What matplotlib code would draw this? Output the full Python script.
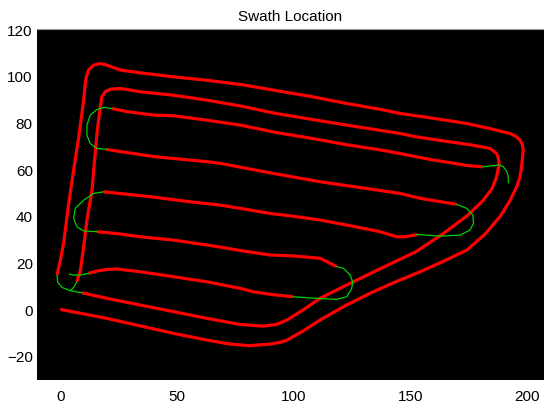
import matplotlib
matplotlib.use("Agg")
import matplotlib.pyplot as plt

plt.rcParams['font.family'] = ['Liberation Sans', 'DejaVu Sans']

title = "Swath Location"
x_ticks = [0, 50, 100, 150, 200]
y_ticks = [-20, 0, 20, 40, 60, 80, 100, 120]

# ---- outer loop (red) ----
outer_x = [0, 20, 48.5, 63, 72, 81, 89.9, 94, 97, 104, 111.3, 122, 132.8, 143, 154.2, 164, 174.2,
           182, 188.4, 192.5, 195.6, 197, 197.7, 198.4, 198, 197, 195, 192.7, 185, 174.2, 160, 145.6,
           137.5, 122, 107.8, 93, 78, 63, 48.4, 34.3, 25.7, 20, 17.1, 14.3, 12.1, 11, 10.7, 10, 8,
           5.7, 3.6, 1.4, 0, -1.4]
outer_y = [0.3, -3.6, -10, -12.9, -14.5, -15.3, -14.6, -13.9, -13, -9, -4.3, 1.8, 7.2, 11.8, 16.4, 20.8, 25.7,
           32.5, 40, 46.5, 52.9, 57, 61.4, 68.6, 71, 72.9, 74.6, 75.7, 77.6, 80, 82.2, 84.3,
           86, 88.7, 91.5, 94, 96.6, 98.5, 100, 101.7, 102.9, 105, 105.7, 105, 102.9, 99.3, 97.2, 90, 75,
           60, 45.7, 28.6, 21.4, 15]

# ---- turn between loops (green) ----
turn_a_x = [-1.4, -1.2, 0.7, 4.3, 9.3]
turn_a_y = [15, 12.1, 9.7, 8.3, 7.4]

# ---- inner loop (red) ----
inner_x = [9.3, 20, 34, 48.5, 63, 77.1, 87, 92.5, 97.1, 104, 111.3, 122.7, 137.5, 152.4, 164.3, 174.7,
           181.3, 185, 187, 188.1, 187.6, 187, 184.2, 176, 167, 152.4, 145.6, 122.7, 92.9, 77.1, 62.8,
           48.5, 34.3, 25.7, 21.4, 19.3, 17.8, 17.1, 15.7, 14.3, 13.6, 11.4, 10, 8.6, 7.1]
inner_y = [7.4, 5, 2.2, -0.7, -3.6, -6.2, -6.9, -6.2, -4.3, 0, 5, 10.7, 17.9, 25, 32.9, 40.7,
           47.1, 52, 57.1, 62.9, 65.5, 67.1, 69.3, 70.8, 72.1, 74.3, 75.7, 79.3, 84.2, 87.5, 90,
           92.1, 93.6, 95, 94.7, 93.6, 91.4, 87.1, 75.7, 60, 51.4, 38.6, 27.1, 17.1, 12.1]

turn_b_x = [7.1, 5.7, 4.3]
turn_b_y = [12.1, 9.7, 8.3]

# ---- serpentine swaths (red) and turns (green) ----
turn_c0_x = [3.9, 5.7, 8.5, 12.1]
turn_c0_y = [15.4, 15, 15, 15.7]

swath1_x = [12.1, 16, 20, 24.3, 34.3, 48.5, 62.8, 77.1, 82.8, 91, 99.7]
swath1_y = [15.7, 16.8, 17.4, 17.6, 16.4, 14.3, 12.1, 9.3, 7.8, 6.6, 5.7]

turn1_x = [99.7, 110, 118.5, 122.8, 124.9, 125.3, 124.2, 121.3, 118.5]
turn1_y = [5.7, 5.0, 4.6, 5.7, 9.3, 12.1, 15, 17.9, 18.6]

swath2_x = [118.5, 111.3, 100, 89.9, 77.1, 68.5, 62.8, 48.5, 34.3, 25, 15.7]
swath2_y = [18.6, 22.2, 23.2, 23.6, 25.5, 27, 27.9, 30, 31.4, 32.7, 33.6]

turn2_x = [15.7, 10, 7.1, 5.7, 6.4, 10, 14.3, 18.5]
turn2_y = [33.6, 33.9, 35.7, 39.3, 43.6, 47.1, 50, 50.7]

swath3_x = [18.5, 38.5, 55.7, 68.5, 77.1, 90, 100, 111.3, 125, 137, 144.2, 148, 152.8]
swath3_y = [50.7, 48.6, 46.4, 45, 43.6, 41.4, 40.2, 38.6, 36, 33.6, 31.4, 31.4, 32.4]

turn3_x = [152.8, 162.7, 171.3, 175.6, 177.1, 176.8, 174.2, 169.9]
turn3_y = [32.4, 31.7, 32.1, 34.3, 37.2, 40.7, 43.6, 45.3]

swath4_x = [169.9, 154.2, 145.6, 130, 111.3, 90, 68.5, 63, 40.9, 30, 19.7]
swath4_y = [45.3, 47.9, 50, 52.3, 55, 58.8, 62.9, 63.6, 65.7, 67.3, 68.9]

turn4_x = [19.7, 15.7, 12.8, 11.4, 11.4, 12.8, 15.7, 18.5, 22.1]
turn4_y = [68.9, 69.3, 71.4, 75, 79.3, 83.6, 86, 86.9, 86.4]

swath5_x = [22.1, 28, 34.3, 40, 48.5, 62.8, 77.1, 92, 107.8, 122, 137.5, 145.6, 159.9, 167, 174, 181]
swath5_y = [86.4, 85.2, 84.3, 83.6, 83.3, 81.4, 79.3, 76.2, 73.6, 71, 68.6, 67.1, 64.3, 63.2, 62, 61.4]

turn5_x = [181, 185, 188.1, 189.9, 191.3, 191.9, 192.1]
turn5_y = [61.4, 61.8, 62.2, 61.4, 59.5, 57.5, 54.6]

red_segments = [(outer_x, outer_y), (inner_x, inner_y), (swath1_x, swath1_y), (swath2_x, swath2_y),
                (swath3_x, swath3_y), (swath4_x, swath4_y), (swath5_x, swath5_y)]
green_segments = [(turn_a_x, turn_a_y), (turn_b_x, turn_b_y), (turn_c0_x, turn_c0_y), (turn1_x, turn1_y),
                  (turn2_x, turn2_y), (turn3_x, turn3_y), (turn4_x, turn4_y), (turn5_x, turn5_y)]

fig = plt.figure(figsize=(5.44, 4.07), dpi=100)
ax = fig.add_axes([37 / 544, 27 / 407, 507 / 544, 351 / 407])
ax.set_facecolor('black')

for xs, ys in red_segments:
    ax.plot(xs, ys, color='#ff0000', lw=2.3, solid_capstyle='butt', solid_joinstyle='round')
for xs, ys in green_segments:
    ax.plot(xs, ys, color='#00d000', lw=0.9, solid_joinstyle='round')

ax.set_xlim(-10, 207.3)
ax.set_ylim(-30, 120.5)
ax.set_xticks(x_ticks)
ax.set_yticks(y_ticks)
ax.tick_params(axis='both', length=0, labelsize=11)
ax.tick_params(axis='x', pad=7)
ax.tick_params(axis='y', pad=3)
ax.set_yticklabels(['\u221220', '0', '20', '40', '60', '80', '100', '120'])
for s in ['left', 'bottom', 'right']:
    ax.spines[s].set_visible(False)
ax.spines['top'].set_color('#999999')
ax.spines['top'].set_linewidth(0.8)
ax.set_title(title, fontsize=11, pad=6)

fig.savefig('out.png', dpi=100, facecolor='white')
